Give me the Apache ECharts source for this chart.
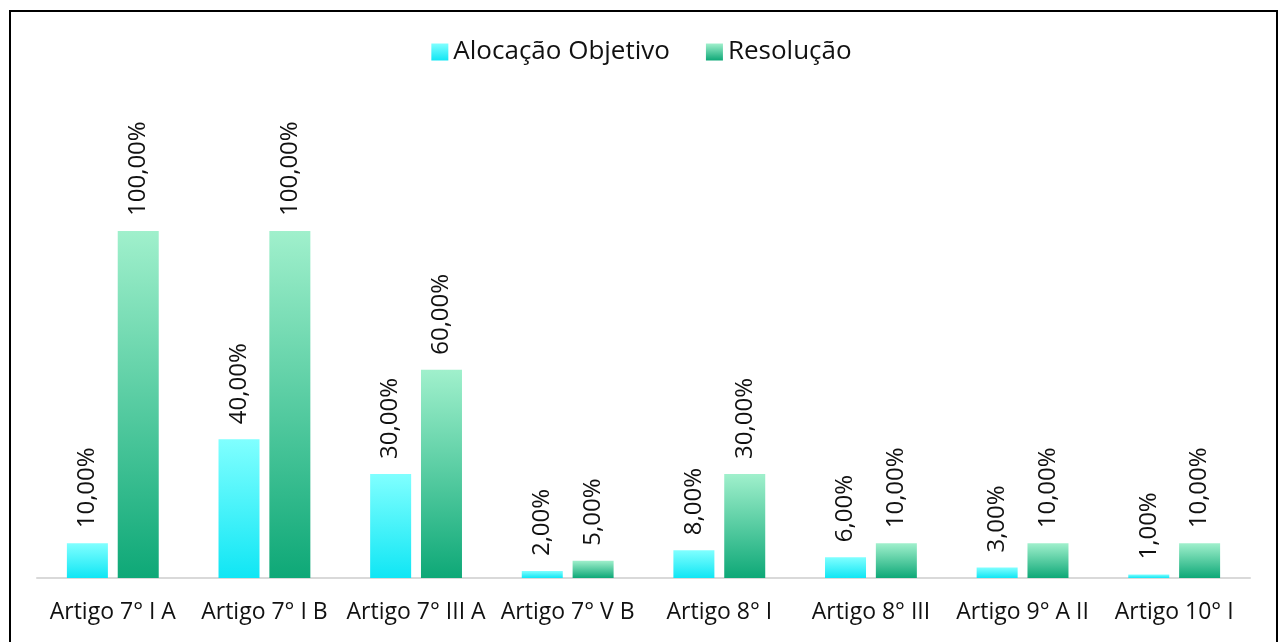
<!DOCTYPE html>
<html><head><meta charset="utf-8">
<script src="https://cdn.jsdelivr.net/npm/echarts@6/dist/echarts.min.js"></script>
<style>html,body{margin:0;padding:0;background:#fff}#c{width:1283px;height:642px}</style>
</head><body><div id="c"></div>
<script>
const categories = ['Artigo 7° I A','Artigo 7° I B','Artigo 7° III A','Artigo 7° V B','Artigo 8° I','Artigo 8° III','Artigo 9° A II','Artigo 10° I'];
const alocacao = [0.10,0.40,0.30,0.02,0.08,0.06,0.03,0.01];
const resolucao = [1.00,1.00,0.60,0.05,0.30,0.10,0.10,0.10];
const seriesNames = ['Alocação Objetivo','Resolução'];

const font = '"Open Sans", sans-serif';
const grad = (a,b)=>new echarts.graphic.LinearGradient(0,0,0,1,[{offset:0,color:a},{offset:1,color:b}]);
const cyan = grad('#80ffff','#10e6f4');
const green = grad('#a0f0cc','#0ea877');
const fmt = p => (p.value*100).toFixed(2).replace('.',',')+'%';
const lbl = {show:true,position:'top',rotate:90,align:'left',verticalAlign:'middle',distance:15,
  formatter:fmt,fontFamily:font,fontSize:24,color:'#111'};

const chart = echarts.init(document.getElementById('c'));
chart.setOption({
  backgroundColor:'#fff',
  animation:false,
  graphic:[{type:'rect',shape:{x:10,y:11,width:1267,height:700},style:{fill:'none',stroke:'#000',lineWidth:2},silent:true}],
  legend:{top:34,left:'center',itemWidth:17,itemHeight:17,itemGap:36,icon:'rect',
    textStyle:{fontFamily:font,fontSize:26,color:'#111'},data:seriesNames},
  grid:{left:37,right:33,top:231,bottom:64,containLabel:false},
  xAxis:{type:'category',data:categories,
    axisLine:{lineStyle:{color:'#d9d9d9',width:2}},axisTick:{show:false},
    axisLabel:{fontFamily:font,fontSize:23,color:'#111',margin:23,interval:0}},
  yAxis:{type:'value',min:0,max:1,show:false,splitLine:{show:false}},
  series:[
    {name:seriesNames[0],type:'bar',data:alocacao,barWidth:41,barGap:'24%',itemStyle:{color:cyan},label:lbl},
    {name:seriesNames[1],type:'bar',data:resolucao,barWidth:41,itemStyle:{color:green},label:lbl}
  ]
});
</script></body></html>
